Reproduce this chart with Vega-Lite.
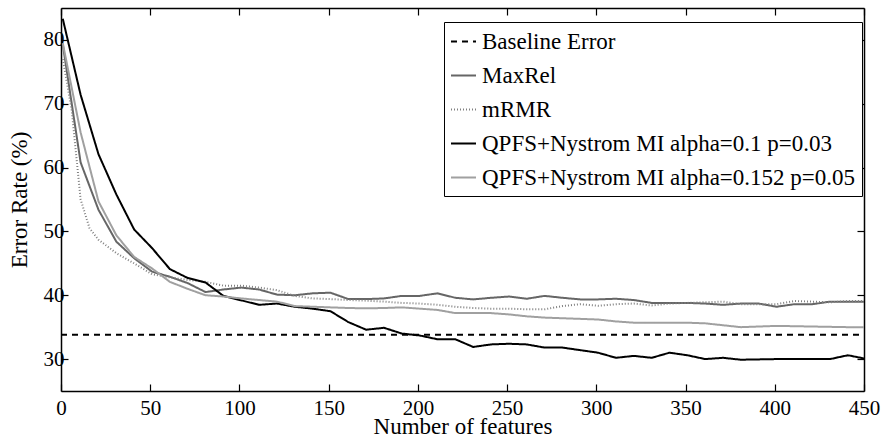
{
"$schema": "https://vega.github.io/schema/vega-lite/v6.json",
"width": 803, "height": 383,
"autosize": {"type": "none"},
"padding": {"left": 61, "top": 8, "right": 22, "bottom": 48},
"background": "white",
"config": {
  "view": {"stroke": null},
  "font": "Liberation Serif",
  "axis": {"grid": false, "domainColor": "#000", "domainWidth": 1.5, "tickColor": "#000", "tickWidth": 1.2, "tickSize": -7, "labelFont": "Liberation Serif", "labelFontSize": 21, "labelColor": "#000", "titleFont": "Liberation Serif", "titleFontSize": 23, "titleFontWeight": "normal", "titleColor": "#000", "labelFlush": false, "labelOverlap": false}
},
"data": {"values": [
{"f":0,"e":33.8,"m":"Baseline Error"},{"f":450,"e":33.8,"m":"Baseline Error"},
{"f":1,"e":79.3,"m":"MaxRel"},{"f":11,"e":60.8,"m":"MaxRel"},{"f":21,"e":53.4,"m":"MaxRel"},{"f":31,"e":48.4,"m":"MaxRel"},{"f":41,"e":45.8,"m":"MaxRel"},{"f":51,"e":43.7,"m":"MaxRel"},{"f":61,"e":42.9,"m":"MaxRel"},{"f":71,"e":41.9,"m":"MaxRel"},{"f":81,"e":40.5,"m":"MaxRel"},{"f":91,"e":40.9,"m":"MaxRel"},{"f":101,"e":41.2,"m":"MaxRel"},{"f":111,"e":40.9,"m":"MaxRel"},{"f":121,"e":40.1,"m":"MaxRel"},{"f":131,"e":40.0,"m":"MaxRel"},{"f":141,"e":40.3,"m":"MaxRel"},{"f":151,"e":40.4,"m":"MaxRel"},{"f":161,"e":39.4,"m":"MaxRel"},{"f":171,"e":39.4,"m":"MaxRel"},{"f":181,"e":39.5,"m":"MaxRel"},{"f":191,"e":39.9,"m":"MaxRel"},{"f":201,"e":39.9,"m":"MaxRel"},{"f":211,"e":40.3,"m":"MaxRel"},{"f":221,"e":39.6,"m":"MaxRel"},{"f":231,"e":39.35,"m":"MaxRel"},{"f":241,"e":39.6,"m":"MaxRel"},{"f":251,"e":39.8,"m":"MaxRel"},{"f":261,"e":39.45,"m":"MaxRel"},{"f":271,"e":39.9,"m":"MaxRel"},{"f":281,"e":39.6,"m":"MaxRel"},{"f":291,"e":39.35,"m":"MaxRel"},{"f":301,"e":39.35,"m":"MaxRel"},{"f":311,"e":39.45,"m":"MaxRel"},{"f":321,"e":39.25,"m":"MaxRel"},{"f":331,"e":38.8,"m":"MaxRel"},{"f":341,"e":38.8,"m":"MaxRel"},{"f":351,"e":38.8,"m":"MaxRel"},{"f":361,"e":38.7,"m":"MaxRel"},{"f":371,"e":38.5,"m":"MaxRel"},{"f":381,"e":38.7,"m":"MaxRel"},{"f":391,"e":38.7,"m":"MaxRel"},{"f":401,"e":38.2,"m":"MaxRel"},{"f":411,"e":38.6,"m":"MaxRel"},{"f":421,"e":38.6,"m":"MaxRel"},{"f":431,"e":39.0,"m":"MaxRel"},{"f":441,"e":39.0,"m":"MaxRel"},{"f":450,"e":39.0,"m":"MaxRel"},
{"f":1,"e":77.0,"m":"mRMR"},{"f":6,"e":69.0,"m":"mRMR"},{"f":11,"e":55.0,"m":"mRMR"},{"f":16,"e":50.5,"m":"mRMR"},{"f":21,"e":48.7,"m":"mRMR"},{"f":31,"e":46.6,"m":"mRMR"},{"f":41,"e":45.0,"m":"mRMR"},{"f":51,"e":43.3,"m":"mRMR"},{"f":61,"e":42.8,"m":"mRMR"},{"f":71,"e":42.4,"m":"mRMR"},{"f":81,"e":42.1,"m":"mRMR"},{"f":91,"e":41.5,"m":"mRMR"},{"f":101,"e":41.5,"m":"mRMR"},{"f":111,"e":41.2,"m":"mRMR"},{"f":121,"e":40.8,"m":"mRMR"},{"f":131,"e":39.9,"m":"mRMR"},{"f":141,"e":39.5,"m":"mRMR"},{"f":151,"e":39.4,"m":"mRMR"},{"f":161,"e":39.25,"m":"mRMR"},{"f":171,"e":39.15,"m":"mRMR"},{"f":181,"e":39.0,"m":"mRMR"},{"f":191,"e":38.8,"m":"mRMR"},{"f":201,"e":38.7,"m":"mRMR"},{"f":211,"e":38.5,"m":"mRMR"},{"f":221,"e":38.2,"m":"mRMR"},{"f":231,"e":38.0,"m":"mRMR"},{"f":241,"e":37.9,"m":"mRMR"},{"f":251,"e":37.9,"m":"mRMR"},{"f":261,"e":37.8,"m":"mRMR"},{"f":271,"e":37.8,"m":"mRMR"},{"f":281,"e":38.3,"m":"mRMR"},{"f":291,"e":38.6,"m":"mRMR"},{"f":301,"e":38.35,"m":"mRMR"},{"f":311,"e":38.6,"m":"mRMR"},{"f":321,"e":38.7,"m":"mRMR"},{"f":331,"e":38.4,"m":"mRMR"},{"f":341,"e":38.7,"m":"mRMR"},{"f":351,"e":38.8,"m":"mRMR"},{"f":361,"e":38.9,"m":"mRMR"},{"f":371,"e":39.0,"m":"mRMR"},{"f":381,"e":38.6,"m":"mRMR"},{"f":391,"e":38.6,"m":"mRMR"},{"f":401,"e":38.6,"m":"mRMR"},{"f":411,"e":39.1,"m":"mRMR"},{"f":421,"e":39.0,"m":"mRMR"},{"f":431,"e":38.9,"m":"mRMR"},{"f":441,"e":39.1,"m":"mRMR"},{"f":450,"e":39.1,"m":"mRMR"},
{"f":1,"e":83.3,"m":"QPFS+Nystrom MI alpha=0.1 p=0.03"},{"f":11,"e":71.4,"m":"QPFS+Nystrom MI alpha=0.1 p=0.03"},{"f":21,"e":62.1,"m":"QPFS+Nystrom MI alpha=0.1 p=0.03"},{"f":31,"e":55.8,"m":"QPFS+Nystrom MI alpha=0.1 p=0.03"},{"f":41,"e":50.3,"m":"QPFS+Nystrom MI alpha=0.1 p=0.03"},{"f":51,"e":47.4,"m":"QPFS+Nystrom MI alpha=0.1 p=0.03"},{"f":61,"e":44.1,"m":"QPFS+Nystrom MI alpha=0.1 p=0.03"},{"f":71,"e":42.7,"m":"QPFS+Nystrom MI alpha=0.1 p=0.03"},{"f":81,"e":42.0,"m":"QPFS+Nystrom MI alpha=0.1 p=0.03"},{"f":91,"e":39.9,"m":"QPFS+Nystrom MI alpha=0.1 p=0.03"},{"f":101,"e":39.2,"m":"QPFS+Nystrom MI alpha=0.1 p=0.03"},{"f":111,"e":38.5,"m":"QPFS+Nystrom MI alpha=0.1 p=0.03"},{"f":121,"e":38.7,"m":"QPFS+Nystrom MI alpha=0.1 p=0.03"},{"f":131,"e":38.2,"m":"QPFS+Nystrom MI alpha=0.1 p=0.03"},{"f":141,"e":37.9,"m":"QPFS+Nystrom MI alpha=0.1 p=0.03"},{"f":151,"e":37.5,"m":"QPFS+Nystrom MI alpha=0.1 p=0.03"},{"f":161,"e":35.8,"m":"QPFS+Nystrom MI alpha=0.1 p=0.03"},{"f":171,"e":34.6,"m":"QPFS+Nystrom MI alpha=0.1 p=0.03"},{"f":181,"e":34.9,"m":"QPFS+Nystrom MI alpha=0.1 p=0.03"},{"f":191,"e":34.0,"m":"QPFS+Nystrom MI alpha=0.1 p=0.03"},{"f":201,"e":33.7,"m":"QPFS+Nystrom MI alpha=0.1 p=0.03"},{"f":211,"e":33.1,"m":"QPFS+Nystrom MI alpha=0.1 p=0.03"},{"f":221,"e":33.1,"m":"QPFS+Nystrom MI alpha=0.1 p=0.03"},{"f":231,"e":31.9,"m":"QPFS+Nystrom MI alpha=0.1 p=0.03"},{"f":241,"e":32.3,"m":"QPFS+Nystrom MI alpha=0.1 p=0.03"},{"f":251,"e":32.4,"m":"QPFS+Nystrom MI alpha=0.1 p=0.03"},{"f":261,"e":32.3,"m":"QPFS+Nystrom MI alpha=0.1 p=0.03"},{"f":271,"e":31.8,"m":"QPFS+Nystrom MI alpha=0.1 p=0.03"},{"f":281,"e":31.8,"m":"QPFS+Nystrom MI alpha=0.1 p=0.03"},{"f":291,"e":31.4,"m":"QPFS+Nystrom MI alpha=0.1 p=0.03"},{"f":301,"e":31.0,"m":"QPFS+Nystrom MI alpha=0.1 p=0.03"},{"f":311,"e":30.2,"m":"QPFS+Nystrom MI alpha=0.1 p=0.03"},{"f":321,"e":30.5,"m":"QPFS+Nystrom MI alpha=0.1 p=0.03"},{"f":331,"e":30.2,"m":"QPFS+Nystrom MI alpha=0.1 p=0.03"},{"f":341,"e":31.0,"m":"QPFS+Nystrom MI alpha=0.1 p=0.03"},{"f":351,"e":30.6,"m":"QPFS+Nystrom MI alpha=0.1 p=0.03"},{"f":361,"e":30.0,"m":"QPFS+Nystrom MI alpha=0.1 p=0.03"},{"f":371,"e":30.2,"m":"QPFS+Nystrom MI alpha=0.1 p=0.03"},{"f":381,"e":29.9,"m":"QPFS+Nystrom MI alpha=0.1 p=0.03"},{"f":391,"e":29.95,"m":"QPFS+Nystrom MI alpha=0.1 p=0.03"},{"f":401,"e":30.0,"m":"QPFS+Nystrom MI alpha=0.1 p=0.03"},{"f":411,"e":30.0,"m":"QPFS+Nystrom MI alpha=0.1 p=0.03"},{"f":421,"e":30.0,"m":"QPFS+Nystrom MI alpha=0.1 p=0.03"},{"f":431,"e":30.0,"m":"QPFS+Nystrom MI alpha=0.1 p=0.03"},{"f":441,"e":30.6,"m":"QPFS+Nystrom MI alpha=0.1 p=0.03"},{"f":450,"e":30.1,"m":"QPFS+Nystrom MI alpha=0.1 p=0.03"},
{"f":1,"e":79.5,"m":"QPFS+Nystrom MI alpha=0.152 p=0.05"},{"f":11,"e":65.5,"m":"QPFS+Nystrom MI alpha=0.152 p=0.05"},{"f":21,"e":54.7,"m":"QPFS+Nystrom MI alpha=0.152 p=0.05"},{"f":31,"e":49.4,"m":"QPFS+Nystrom MI alpha=0.152 p=0.05"},{"f":41,"e":46.0,"m":"QPFS+Nystrom MI alpha=0.152 p=0.05"},{"f":51,"e":44.2,"m":"QPFS+Nystrom MI alpha=0.152 p=0.05"},{"f":61,"e":42.1,"m":"QPFS+Nystrom MI alpha=0.152 p=0.05"},{"f":71,"e":41.0,"m":"QPFS+Nystrom MI alpha=0.152 p=0.05"},{"f":81,"e":40.0,"m":"QPFS+Nystrom MI alpha=0.152 p=0.05"},{"f":91,"e":39.8,"m":"QPFS+Nystrom MI alpha=0.152 p=0.05"},{"f":101,"e":39.5,"m":"QPFS+Nystrom MI alpha=0.152 p=0.05"},{"f":111,"e":39.25,"m":"QPFS+Nystrom MI alpha=0.152 p=0.05"},{"f":121,"e":39.0,"m":"QPFS+Nystrom MI alpha=0.152 p=0.05"},{"f":131,"e":38.3,"m":"QPFS+Nystrom MI alpha=0.152 p=0.05"},{"f":141,"e":38.2,"m":"QPFS+Nystrom MI alpha=0.152 p=0.05"},{"f":151,"e":38.1,"m":"QPFS+Nystrom MI alpha=0.152 p=0.05"},{"f":161,"e":38.0,"m":"QPFS+Nystrom MI alpha=0.152 p=0.05"},{"f":171,"e":37.95,"m":"QPFS+Nystrom MI alpha=0.152 p=0.05"},{"f":181,"e":38.0,"m":"QPFS+Nystrom MI alpha=0.152 p=0.05"},{"f":191,"e":38.1,"m":"QPFS+Nystrom MI alpha=0.152 p=0.05"},{"f":201,"e":37.9,"m":"QPFS+Nystrom MI alpha=0.152 p=0.05"},{"f":211,"e":37.7,"m":"QPFS+Nystrom MI alpha=0.152 p=0.05"},{"f":221,"e":37.2,"m":"QPFS+Nystrom MI alpha=0.152 p=0.05"},{"f":231,"e":37.2,"m":"QPFS+Nystrom MI alpha=0.152 p=0.05"},{"f":241,"e":37.2,"m":"QPFS+Nystrom MI alpha=0.152 p=0.05"},{"f":251,"e":37.0,"m":"QPFS+Nystrom MI alpha=0.152 p=0.05"},{"f":261,"e":36.7,"m":"QPFS+Nystrom MI alpha=0.152 p=0.05"},{"f":271,"e":36.5,"m":"QPFS+Nystrom MI alpha=0.152 p=0.05"},{"f":281,"e":36.4,"m":"QPFS+Nystrom MI alpha=0.152 p=0.05"},{"f":291,"e":36.3,"m":"QPFS+Nystrom MI alpha=0.152 p=0.05"},{"f":301,"e":36.2,"m":"QPFS+Nystrom MI alpha=0.152 p=0.05"},{"f":311,"e":35.9,"m":"QPFS+Nystrom MI alpha=0.152 p=0.05"},{"f":321,"e":35.7,"m":"QPFS+Nystrom MI alpha=0.152 p=0.05"},{"f":331,"e":35.7,"m":"QPFS+Nystrom MI alpha=0.152 p=0.05"},{"f":341,"e":35.7,"m":"QPFS+Nystrom MI alpha=0.152 p=0.05"},{"f":351,"e":35.7,"m":"QPFS+Nystrom MI alpha=0.152 p=0.05"},{"f":361,"e":35.6,"m":"QPFS+Nystrom MI alpha=0.152 p=0.05"},{"f":371,"e":35.3,"m":"QPFS+Nystrom MI alpha=0.152 p=0.05"},{"f":381,"e":35.0,"m":"QPFS+Nystrom MI alpha=0.152 p=0.05"},{"f":391,"e":35.1,"m":"QPFS+Nystrom MI alpha=0.152 p=0.05"},{"f":401,"e":35.2,"m":"QPFS+Nystrom MI alpha=0.152 p=0.05"},{"f":411,"e":35.15,"m":"QPFS+Nystrom MI alpha=0.152 p=0.05"},{"f":421,"e":35.1,"m":"QPFS+Nystrom MI alpha=0.152 p=0.05"},{"f":431,"e":35.05,"m":"QPFS+Nystrom MI alpha=0.152 p=0.05"},{"f":441,"e":35.0,"m":"QPFS+Nystrom MI alpha=0.152 p=0.05"},{"f":450,"e":35.0,"m":"QPFS+Nystrom MI alpha=0.152 p=0.05"}
]},
"layer": [
  {
    "mark": {"type": "line", "clip": true},
    "encoding": {
      "x": {"field": "f", "type": "quantitative", "scale": {"domain": [0, 450], "nice": false, "zero": false},
            "axis": {"orient": "bottom", "values": [0,50,100,150,200,250,300,350,400,450], "title": "Number of features", "labelPadding": 13, "titlePadding": -3}},
      "y": {"field": "e", "type": "quantitative", "scale": {"domain": [25, 85], "nice": false, "zero": false},
            "axis": {"orient": "left", "values": [30,40,50,60,70,80], "title": "Error Rate (%)", "labelPadding": 4, "titlePadding": 12}},
      "color": {"field": "m", "type": "nominal",
        "scale": {"domain": ["Baseline Error","MaxRel","mRMR","QPFS+Nystrom MI alpha=0.1 p=0.03","QPFS+Nystrom MI alpha=0.152 p=0.05"],
                  "range": ["#000000","#666666","#808080","#000000","#a0a0a0"]},
        "legend": {"title": null, "orient": "none", "legendX": 383, "legendY": 14, "strokeColor": "#000", "fillColor": "#fff", "padding": 6, "labelFont": "Liberation Serif", "labelFontSize": 23, "labelColor": "#000", "labelLimit": 500, "symbolType": "stroke", "symbolSize": 625, "symbolStrokeWidth": 2, "rowPadding": 8, "labelOffset": 5}},
      "strokeDash": {"field": "m", "type": "nominal",
        "scale": {"domain": ["Baseline Error","MaxRel","mRMR","QPFS+Nystrom MI alpha=0.1 p=0.03","QPFS+Nystrom MI alpha=0.152 p=0.05"],
                  "range": [[6,5],[1,0],[1,2],[1,0],[1,0]]},
        "legend": {"title": null, "orient": "none", "legendX": 383, "legendY": 14, "strokeColor": "#000", "fillColor": "#fff", "padding": 6, "labelFont": "Liberation Serif", "labelFontSize": 23, "labelColor": "#000", "labelLimit": 500, "symbolType": "stroke", "symbolSize": 625, "symbolStrokeWidth": 2, "rowPadding": 8, "labelOffset": 5}},
      "strokeWidth": {"field": "m", "type": "nominal",
        "scale": {"domain": ["Baseline Error","MaxRel","mRMR","QPFS+Nystrom MI alpha=0.1 p=0.03","QPFS+Nystrom MI alpha=0.152 p=0.05"],
                  "range": [2, 2, 3.5, 2, 2]},
        "legend": null}
    }
  },
  {
    "mark": {"type": "point", "opacity": 0},
    "encoding": {
      "x": {"field": "f", "type": "quantitative", "axis": {"orient": "top", "values": [0,50,100,150,200,250,300,350,400,450], "labels": false, "title": null}},
      "y": {"field": "e", "type": "quantitative", "axis": {"orient": "right", "values": [30,40,50,60,70,80], "labels": false, "title": null}}
    }
  }
],
"resolve": {"axis": {"x": "independent", "y": "independent"}}
}
